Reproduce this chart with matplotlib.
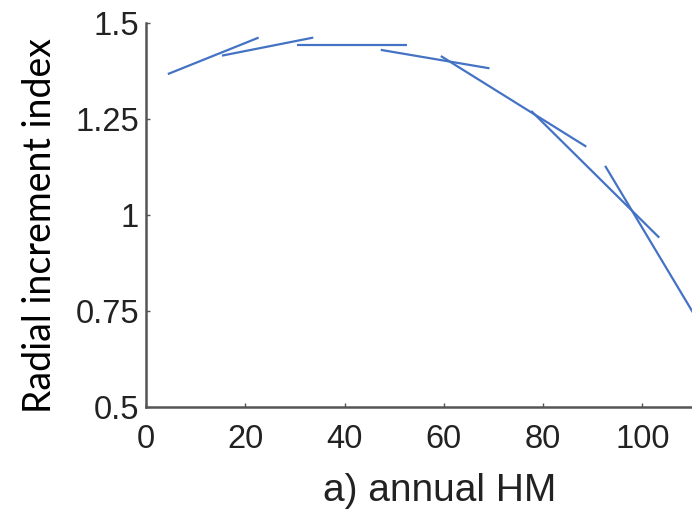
import matplotlib
matplotlib.use("Agg")
import matplotlib.pyplot as plt

# Local fitted segments of the radial increment index against annual HM
seg_x_start = [4.4, 15.3, 30.4, 47.3, 59.4, 77.6, 92.5]
seg_x_end = [22.7, 33.7, 52.5, 69.2, 88.7, 103.4, 114.0]
seg_y_start = [1.367, 1.415, 1.443, 1.430, 1.414, 1.271, 1.128]
seg_y_end = [1.462, 1.462, 1.443, 1.382, 1.178, 0.941, 0.664]

x_ticks = [0, 20, 40, 60, 80, 100]
y_ticks = [0.5, 0.75, 1.0, 1.25, 1.5]
y_tick_labels = ["0.5", "0.75", "1", "1.25", "1.5"]

x_label = "a) annual HM"
y_label = "Radial increment index"

line_color = "#4472c4"
spine_color = "#555555"
text_color = "#222222"

fig = plt.figure(figsize=(6.92, 5.12), dpi=100)
ax = fig.add_axes([146 / 692, 105 / 512, 1 - 146 / 692, 384 / 512])

for xs, xe, ys, ye in zip(seg_x_start, seg_x_end, seg_y_start, seg_y_end):
    ax.plot([xs, xe], [ys, ye], color=line_color, lw=1.6,
            solid_capstyle="butt")

ax.set_xlim(0, 110)
ax.set_ylim(0.5, 1.5)
ax.set_xticks(x_ticks)
ax.set_yticks(y_ticks)
ax.set_yticklabels(y_tick_labels)

for side in ("top", "right"):
    ax.spines[side].set_visible(False)
for side in ("left", "bottom"):
    ax.spines[side].set_color(spine_color)
    ax.spines[side].set_linewidth(1.8)

ax.tick_params(direction="in", length=3, width=1, color=spine_color,
               labelcolor=text_color)
ax.tick_params(axis="x", pad=12)
ax.tick_params(axis="y", pad=5)
for lab in ax.get_xticklabels() + ax.get_yticklabels():
    lab.set_fontfamily("Liberation Sans")
    lab.set_fontsize(23.5)

fig.text(439.5 / 692, 11 / 512, x_label, ha="center", va="baseline",
         family="Liberation Sans", fontsize=28, color=text_color)
fig.text(40 / 692, 1 - 226 / 512, y_label, rotation=90, ha="center",
         va="center", family="Lato", fontsize=27, color="black")

fig.savefig("out.png", dpi=100)
